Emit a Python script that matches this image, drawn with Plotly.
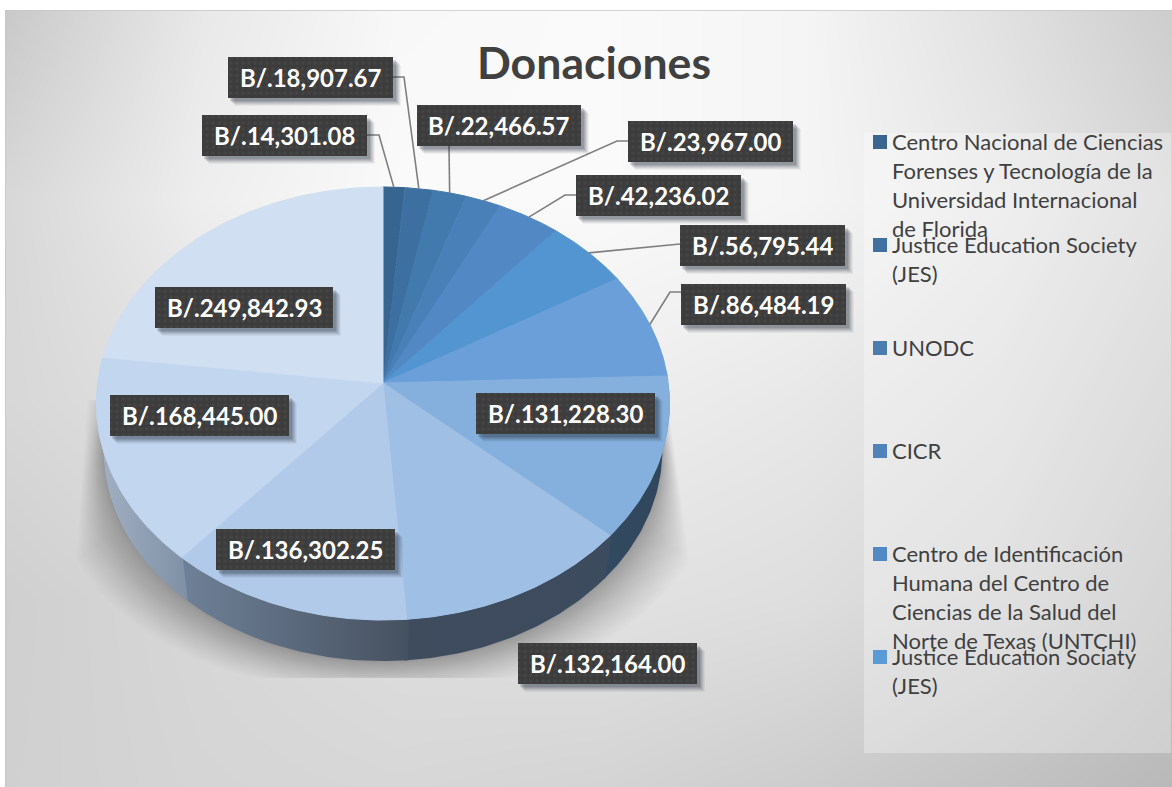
import numpy as np
import plotly.graph_objects as go

TITLE = "Donaciones"
VALUES = [14301.08, 18907.67, 22466.57, 23967.00, 42236.02, 56795.44, 86484.19,
          131228.30, 132164.00, 136302.25, 168445.00, 249842.93]
SLICE_COLORS = ["#37658f", "#3d70a1", "#437aad", "#4a80b8", "#5289c5", "#5295d0",
                "#6a9fd9", "#85b0dd", "#9fbfe5", "#b2cae9", "#c3d6ef", "#d0dff1"]
WALL_LEFT = {7: "#324a60", 8: "#3f4c5e", 9: "#6f8198", 10: "#a3b1c3"}
WALL_RIGHT = {7: "#2f465c", 8: "#3d4b5e", 9: "#465160", 10: "#7f90a6"}
LEGEND_NAMES = [
    ["Centro Nacional de Ciencias", "Forenses y Tecnología de la", "Universidad Internacional", "de Florida"],
    ["Justice Education Society", "(JES)"],
    ["UNODC"],
    ["CICR"],
    ["Centro de Identificación", "Humana del Centro de", "Ciencias de la Salud del", "Norte de Texas (UNTCHI)"],
    ["Justice Education Sociaty", "(JES)"],
]
LEGEND_COLORS = ["#39658f", "#3f70a0", "#4a7dae", "#4f83b9", "#5089c4", "#5b9bd5"]

# layout (pixel-like axis units)
W, H = 1172, 787
CX, CY = 383, 383
PA, PB, PK = 285.3, 214.6, 0.0947
W_SCALE, W_DY = 0.975, 47
LABEL_BOXES = [(202, 115, 367, 156), (228, 57, 393, 98), (417, 105, 581, 146),
               (628, 121, 793, 162), (576, 175, 741, 216), (680, 225, 845, 266),
               (681, 284, 846, 325), (476, 393, 655, 434), (518, 643, 697, 684),
               (216, 529, 395, 570), (110, 395, 289, 436), (155, 287, 333, 328)]
LEADER_KNEES = {0: [(367, 135), (379, 135)], 1: [(393, 77), (404, 77)], 2: [(449, 146), (449, 146)],
                3: [(628, 141), (617, 141)], 4: [(576, 195), (565, 195)], 5: [(680, 244), (670, 245)],
                6: [(681, 292), (670, 292)]}
LEGEND_X0, LEGEND_X1, LEGEND_TEXT_X = 873, 887, 890
LEGEND_Y = [135, 238, 341, 444, 547, 650]
LINE_H = 29.3
BG_X = [0, 200, 400, 600, 800, 1000, 1172]
BG_Y = [10, 200, 400, 600, 787]
BG_Z = [[200, 232, 248, 250, 245, 225, 205],
        [215, 238, 250, 250, 245, 232, 215],
        [215, 225, 235, 238, 232, 222, 205],
        [207, 215, 222, 226, 222, 212, 195],
        [208, 213, 215, 212, 205, 195, 185]]


def project(theta, r=1.0, scale=1.0, dy=0.0):
    u, v = r * np.sin(theta), -r * np.cos(theta)
    den = 1 - PK * v
    return CX + scale * PA * u / den, CY + dy + scale * PB * v / den


fig = go.Figure()
fig.add_trace(go.Heatmap(x=BG_X, y=BG_Y, z=BG_Z, zmin=0, zmax=255, zsmooth="best", showscale=False,
                         colorscale=[[0, "#000"], [1, "#fff"]], hoverinfo="skip"))


def poly(xs, ys, **kw):
    fig.add_trace(go.Scatter(x=list(xs), y=list(ys), mode="lines", fill="toself", hoverinfo="skip", **kw))


poly([864, 1171, 1171, 864], [133, 133, 753, 753], fillcolor="rgba(255,255,255,0.3)", line=dict(width=0))

# soft shadow under the pie
t = np.radians(np.linspace(60, 300, 200))
for f in np.linspace(1, 0.05, 26):
    g = 50 * f ** 1.5
    x0, y0 = project(t, scale=W_SCALE, dy=W_DY)
    left_edge = 85 - (y0 - 400) * 8 / 120
    right_edge = 672 + (y0 - 400) * 16 / 120
    limit = np.where(x0 < CX, x0 - left_edge, right_edge - x0)
    reach = np.minimum(g * np.abs(np.sin(t)) ** 0.5, np.maximum(limit, 0) * f ** 1.5)
    sx = x0 + np.sign(x0 - CX) * reach
    sy = np.clip(y0 + g * 0.62, 400, 678)
    poly(sx, sy, fillcolor="rgba(0,0,0,0.013)", line=dict(width=0))

# wedge angles come from the values
vals = np.array(VALUES)
edges = np.concatenate([[0], np.cumsum(vals)]) / vals.sum() * 2 * np.pi

# side walls (a hair of overlap hides seams)
for i in sorted(WALL_LEFT):
    a = np.linspace(edges[i] - 0.006, edges[i + 1] + 0.006, 60)
    xt, yt = project(a)
    xb, yb = project(a, scale=W_SCALE, dy=W_DY)
    xs = np.concatenate([xt, xb[::-1], xt[:1]])
    ys = np.concatenate([yt, yb[::-1], yt[:1]])
    fig.add_trace(go.Scatter(x=xs, y=ys, mode="lines", hoverinfo="skip", line=dict(width=0), fill="toself",
                             fillgradient=dict(type="horizontal",
                                               colorscale=[[0, WALL_LEFT[i]], [1, WALL_RIGHT[i]]])))

# top face wedges
for i, c in enumerate(SLICE_COLORS):
    a = np.linspace(edges[i], edges[i + 1], 80)
    xt, yt = project(a)
    poly(np.r_[CX, xt, CX], np.r_[CY, yt, CY], fillcolor=c, line=dict(width=1, color=c))

# leaders
for i, knee in LEADER_KNEES.items():
    mid = (edges[i] + edges[i + 1]) / 2
    ex, ey = project(mid)
    xs = [p[0] for p in knee] + [float(ex)]
    ys = [p[1] for p in knee] + [float(ey)]
    fig.add_trace(go.Scatter(x=xs, y=ys, mode="lines", hoverinfo="skip", line=dict(color="#7f7f7f", width=1.6)))

# label plates
annotations = []
for (x0, y0, x1, y1), v in zip(LABEL_BOXES, VALUES):
    for k, alpha in ((8, 0.05), (7, 0.07), (6, 0.09), (5, 0.10), (4, 0.12), (3, 0.14)):
        poly([x0 + k - 1, x1 + k, x1 + k, x0 + k - 1], [y0 + k, y0 + k, y1 + k, y1 + k],
             fillcolor=f"rgba(30,40,60,{alpha})", line=dict(width=0))
    fig.add_trace(go.Scatter(x=[x0, x1, x1, x0, x0], y=[y0, y0, y1, y1, y0], mode="lines", hoverinfo="skip",
                             line=dict(width=0), fill="toself", fillcolor="#3c3c3c",
                             fillpattern=dict(shape=".", bgcolor="#3c3c3c", fgcolor="#4c4c4c", size=6, solidity=0.3)))
    annotations.append(dict(x=(x0 + x1) / 2, y=(y0 + y1) / 2, text=f"B/.{v:,.2f}", showarrow=False,
                            font=dict(family="Lato", size=24, color="#ffffff", weight="bold")))

# legend
for top, col, lines in zip(LEGEND_Y, LEGEND_COLORS, LEGEND_NAMES):
    poly([LEGEND_X0, LEGEND_X1, LEGEND_X1, LEGEND_X0], [top, top, top + 14, top + 14],
         fillcolor=col, line=dict(width=0))
    for n, line in enumerate(lines):
        annotations.append(dict(x=LEGEND_TEXT_X, y=top + 6 + n * LINE_H, text=line, showarrow=False, xanchor="left",
                                font=dict(family="Lato", size=22, color="#404040")))

annotations.append(dict(x=594, y=61, text=TITLE, showarrow=False,
                        font=dict(family="Lato", size=44.6, color="#404040", weight="bold")))

frame = [dict(type="rect", xref="x", yref="y", x0=5, y0=10, x1=W + 5, y1=H + 5, fillcolor="rgba(0,0,0,0)",
              line=dict(color="#c6c6c6", width=1.5), layer="above"),
         dict(type="rect", xref="x", yref="y", x0=0, y0=0, x1=5, y1=H, fillcolor="#fff", line=dict(width=0)),
         dict(type="rect", xref="x", yref="y", x0=0, y0=0, x1=W, y1=10, fillcolor="#fff", line=dict(width=0))]

fig.update_layout(width=W, height=H, margin=dict(l=0, r=0, t=0, b=0), showlegend=False,
                  paper_bgcolor="#ffffff", plot_bgcolor="#ffffff", annotations=annotations, shapes=frame,
                  xaxis=dict(range=[0, W], visible=False, fixedrange=True),
                  yaxis=dict(range=[H, 0], visible=False, fixedrange=True))
fig.write_html("out.html", config=dict(displayModeBar=False),
               post_script="document.body.style.margin='0';document.body.style.overflow='hidden';")
